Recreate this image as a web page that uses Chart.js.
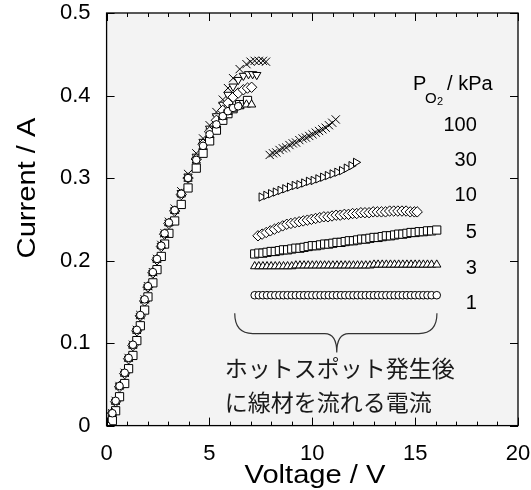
<!DOCTYPE html>
<html>
<head>
<meta charset="utf-8">
<script src="https://cdn.jsdelivr.net/npm/chart.js@4.4.0/dist/chart.umd.min.js"></script>
<style>
  html, body { margin: 0; padding: 0; background: #fff; }
  #wrap { width: 531px; height: 490px; }
</style>
</head>
<body>
<div id="wrap"><canvas id="chart" width="531" height="490"></canvas></div>
<script>
// ---- データ ----
const pressureLabels = ['100', '30', '10', '5', '3', '1'];   // PO2 / kPa

// 立ち上がり部分 (ホットスポット発生前)
const riseV100 = [0, 0.28, 0.44, 0.63, 0.88, 1.07, 1.28, 1.47, 1.64, 1.85, 2.01, 2.25, 2.45, 2.66, 2.82, 3.03, 3.31, 3.63, 3.96, 4.36, 4.69, 5.01, 5.34, 5.65, 5.9, 6.15, 6.47, 6.8, 7.0, 7.2, 7.4, 7.6, 7.75];
const riseI100 = [0, 0.015, 0.030, 0.048, 0.064, 0.082, 0.098, 0.116, 0.134, 0.153, 0.169, 0.186, 0.202, 0.219, 0.233, 0.247, 0.263, 0.284, 0.305, 0.330, 0.348, 0.364, 0.380, 0.395, 0.409, 0.421, 0.432, 0.438, 0.441, 0.442, 0.442, 0.442, 0.441];

const riseV30 = [0, 0.28, 0.44, 0.63, 0.88, 1.07, 1.28, 1.47, 1.64, 1.85, 2.01, 2.25, 2.45, 2.66, 2.82, 3.03, 3.31, 3.63, 3.96, 4.36, 4.69, 5.01, 5.34, 5.65, 5.9, 6.15, 6.4, 6.65, 6.9, 7.1, 7.3];
const riseI30 = [0, 0.015, 0.029, 0.048, 0.063, 0.081, 0.097, 0.115, 0.133, 0.152, 0.168, 0.185, 0.201, 0.218, 0.232, 0.246, 0.261, 0.282, 0.302, 0.326, 0.344, 0.360, 0.375, 0.389, 0.401, 0.411, 0.419, 0.424, 0.426, 0.426, 0.425];

const riseV10 = [0, 0.28, 0.44, 0.63, 0.88, 1.07, 1.28, 1.47, 1.64, 1.85, 2.01, 2.25, 2.45, 2.66, 2.82, 3.03, 3.31, 3.63, 3.96, 4.36, 4.69, 5.01, 5.34, 5.65, 5.9, 6.15, 6.4, 6.65, 6.85, 7.05];
const riseI10 = [0, 0.015, 0.029, 0.047, 0.063, 0.081, 0.097, 0.115, 0.133, 0.151, 0.168, 0.185, 0.201, 0.217, 0.232, 0.245, 0.260, 0.280, 0.300, 0.323, 0.341, 0.356, 0.370, 0.382, 0.391, 0.398, 0.403, 0.407, 0.409, 0.410];

const riseV5 = [0, 0.28, 0.44, 0.63, 0.88, 1.07, 1.28, 1.47, 1.64, 1.85, 2.01, 2.25, 2.45, 2.66, 2.82, 3.03, 3.31, 3.63, 3.96, 4.36, 4.69, 5.01, 5.34, 5.65, 5.9, 6.15, 6.47, 6.85];
const riseI5 = [0, 0.006, 0.018, 0.035, 0.051, 0.069, 0.085, 0.103, 0.121, 0.140, 0.156, 0.173, 0.189, 0.205, 0.220, 0.233, 0.248, 0.268, 0.288, 0.312, 0.330, 0.345, 0.358, 0.370, 0.378, 0.384, 0.389, 0.394];

const riseV3 = [0, 0.28, 0.44, 0.63, 0.88, 1.07, 1.28, 1.47, 1.64, 1.85, 2.01, 2.25, 2.45, 2.66, 2.82, 3.03, 3.31, 3.63, 3.96, 4.36, 4.69, 5.01, 5.34, 5.65, 5.9, 6.15, 6.47, 6.8, 7.05];
const riseI3 = [0, 0.015, 0.029, 0.048, 0.063, 0.081, 0.097, 0.115, 0.133, 0.152, 0.168, 0.185, 0.201, 0.218, 0.232, 0.245, 0.260, 0.280, 0.299, 0.321, 0.338, 0.352, 0.364, 0.374, 0.380, 0.384, 0.387, 0.389, 0.389];

const riseV1 = [0, 0.28, 0.44, 0.63, 0.88, 1.07, 1.28, 1.47, 1.64, 1.85, 2.01, 2.25, 2.45, 2.66, 2.82, 3.03, 3.31, 3.63, 3.96, 4.36, 4.69, 5.01, 5.34, 5.65, 5.9, 6.15, 6.4];
const riseI1 = [0, 0.015, 0.030, 0.048, 0.064, 0.082, 0.098, 0.116, 0.134, 0.153, 0.169, 0.186, 0.202, 0.218, 0.233, 0.246, 0.261, 0.281, 0.300, 0.322, 0.339, 0.353, 0.365, 0.375, 0.381, 0.385, 0.387];

// ホットスポット発生後
const hotV100 = [7.93, 8.09, 8.25, 8.41, 8.57, 8.73, 8.89, 9.05, 9.21, 9.37, 9.53, 9.69, 9.85, 10.01, 10.17, 10.33, 10.49, 10.65, 10.81, 10.97, 11.14];
const hotI100 = [0.328, 0.330, 0.331, 0.334, 0.336, 0.337, 0.340, 0.342, 0.343, 0.346, 0.348, 0.349, 0.351, 0.353, 0.355, 0.357, 0.359, 0.361, 0.364, 0.367, 0.371];

const hotV30 = [7.53, 7.76, 7.99, 8.22, 8.45, 8.68, 8.91, 9.14, 9.37, 9.6, 9.83, 10.06, 10.29, 10.52, 10.75, 10.98, 11.21, 11.44, 11.67, 11.9, 12.12];
const hotI30 = [0.277, 0.279, 0.281, 0.283, 0.285, 0.287, 0.289, 0.291, 0.292, 0.294, 0.296, 0.297, 0.299, 0.301, 0.303, 0.305, 0.307, 0.309, 0.312, 0.315, 0.319];

const hotV10 = [7.36, 7.56, 7.76, 7.96, 8.16, 8.36, 8.56, 8.76, 8.96, 9.16, 9.36, 9.56, 9.76, 9.96, 10.16, 10.36, 10.56, 10.76, 10.96, 11.16, 11.36, 11.56, 11.76, 11.96, 12.16, 12.36, 12.56, 12.76, 12.96, 13.16, 13.36, 13.56, 13.76, 13.96, 14.16, 14.36, 14.56, 14.76, 14.96, 15.1];
const hotI10 = [0.230, 0.232, 0.234, 0.236, 0.238, 0.240, 0.242, 0.244, 0.245, 0.246, 0.247, 0.248, 0.249, 0.250, 0.251, 0.252, 0.253, 0.253, 0.254, 0.255, 0.255, 0.256, 0.256, 0.257, 0.257, 0.258, 0.258, 0.258, 0.259, 0.259, 0.259, 0.259, 0.260, 0.260, 0.260, 0.260, 0.260, 0.259, 0.259, 0.259];

// 5, 3, 1 kPa は同じ電圧点
const hotV = [7.2, 7.4, 7.6, 7.8, 8.0, 8.2, 8.4, 8.6, 8.8, 9.0, 9.2, 9.4, 9.6, 9.8, 10.0, 10.2, 10.4, 10.6, 10.8, 11.0, 11.2, 11.4, 11.6, 11.8, 12.0, 12.2, 12.4, 12.6, 12.8, 13.0, 13.2, 13.4, 13.6, 13.8, 14.0, 14.2, 14.4, 14.6, 14.8, 15.0, 15.2, 15.4, 15.6, 15.8, 16.05];
const hotI5 = [0.208, 0.209, 0.209, 0.210, 0.211, 0.211, 0.212, 0.213, 0.213, 0.214, 0.215, 0.215, 0.216, 0.217, 0.218, 0.218, 0.219, 0.220, 0.220, 0.221, 0.222, 0.222, 0.223, 0.224, 0.224, 0.225, 0.226, 0.226, 0.227, 0.228, 0.228, 0.229, 0.230, 0.230, 0.231, 0.232, 0.232, 0.233, 0.234, 0.234, 0.235, 0.235, 0.236, 0.236, 0.237];
const hotI3 = [0.193, 0.193, 0.193, 0.193, 0.193, 0.193, 0.193, 0.193, 0.193, 0.193, 0.194, 0.194, 0.194, 0.194, 0.194, 0.194, 0.194, 0.194, 0.194, 0.194, 0.194, 0.194, 0.194, 0.194, 0.194, 0.194, 0.194, 0.194, 0.194, 0.195, 0.195, 0.195, 0.195, 0.195, 0.195, 0.195, 0.195, 0.195, 0.195, 0.195, 0.195, 0.195, 0.195, 0.195, 0.195];
const hotI1 = [0.158, 0.158, 0.158, 0.158, 0.158, 0.158, 0.158, 0.158, 0.158, 0.158, 0.158, 0.158, 0.158, 0.158, 0.158, 0.158, 0.158, 0.158, 0.158, 0.158, 0.158, 0.158, 0.158, 0.158, 0.158, 0.158, 0.158, 0.158, 0.158, 0.158, 0.158, 0.158, 0.158, 0.158, 0.158, 0.158, 0.158, 0.158, 0.158, 0.158, 0.158, 0.158, 0.158, 0.158, 0.158];

// 軸
const xTicks = [0, 5, 10, 15, 20];
const yTicks = [0, 0.1, 0.2, 0.3, 0.4, 0.5];

const FONT = 'Arial, "Liberation Sans", sans-serif';

function pts(vs, is) {
  return vs.map((v, k) => ({ x: v, y: is[k] }));
}

function series(label, vs, is, style, radius, rotation) {
  return {
    label: label,
    data: pts(vs, is),
    showLine: false,
    pointStyle: style,
    pointRadius: radius,
    pointHoverRadius: radius,
    pointRotation: rotation || 0,
    pointBackgroundColor: '#ffffff',
    pointBorderColor: '#000000',
    pointBorderWidth: 1
  };
}

const datasets = [
  series('1', riseV1, riseI1, 'circle', 3.8),
  series('3', riseV3, riseI3, 'triangle', 4.8),
  series('5', riseV5, riseI5, 'rect', 5.8),
  series('10', riseV10, riseI10, 'rectRot', 5.2),
  series('30', riseV30, riseI30, 'triangle', 4.8, 180),
  series('100', riseV100, riseI100, 'crossRot', 5.8),
  series('1', hotV, hotI1, 'circle', 3.8),
  series('3', hotV, hotI3, 'triangle', 4.8),
  series('5', hotV, hotI5, 'rect', 5.8),
  series('10', hotV10, hotI10, 'rectRot', 5.2),
  series('30', hotV30, hotI30, 'triangle', 4.8, 90),
  series('100', hotV100, hotI100, 'crossRot', 5.8)
];

// 背景 (プロット領域の灰色)
const bgPlugin = {
  id: 'bg',
  beforeDatasetsDraw(chart) {
    const a = chart.chartArea;
    const ctx = chart.ctx;
    ctx.save();
    ctx.fillStyle = '#f3f3f3';
    ctx.fillRect(a.left, a.top, a.right - a.left, a.bottom - a.top);
    ctx.restore();
  }
};

// 枠と内向きの目盛り、注記
const framePlugin = {
  id: 'frame',
  afterDraw(chart) {
    const a = chart.chartArea;
    const ctx = chart.ctx;
    const xs = chart.scales.x;
    const ys = chart.scales.y;
    ctx.save();
    ctx.strokeStyle = '#000';
    ctx.lineWidth = 1.3;
    ctx.strokeRect(a.left, a.top, a.right - a.left, a.bottom - a.top);

    ctx.lineWidth = 1;
    ctx.beginPath();
    for (let v = 0; v <= 20; v++) {
      const px = Math.round(xs.getPixelForValue(v)) + 0.5;
      const len = v % 5 === 0 ? 8 : 4;
      ctx.moveTo(px, a.bottom); ctx.lineTo(px, a.bottom - len);
      ctx.moveTo(px, a.top); ctx.lineTo(px, a.top + len);
    }
    yTicks.forEach(t => {
      const py = Math.round(ys.getPixelForValue(t)) + 0.5;
      ctx.moveTo(a.left, py); ctx.lineTo(a.left + 8, py);
      ctx.moveTo(a.right, py); ctx.lineTo(a.right - 8, py);
    });
    ctx.stroke();

    // 凡例 PO2 / kPa
    ctx.fillStyle = '#000';
    ctx.textBaseline = 'alphabetic';
    ctx.textAlign = 'left';
    const lx = xs.getPixelForValue(14.9);
    const ly = ys.getPixelForValue(0.407);
    ctx.font = '20px ' + FONT;
    ctx.fillText('P', lx, ly);
    ctx.font = '15px ' + FONT;
    ctx.fillText('O', lx + 12, ly + 13);
    ctx.font = '11px ' + FONT;
    ctx.fillText('2', lx + 24, ly + 15);
    ctx.font = '20px ' + FONT;
    ctx.fillText('/ kPa', lx + 34, ly);

    const labelY = [0.364, 0.321, 0.279, 0.234, 0.191, 0.148];
    ctx.textAlign = 'right';
    ctx.textBaseline = 'middle';
    pressureLabels.forEach((p, k) => {
      ctx.fillText(p, xs.getPixelForValue(18.0), ys.getPixelForValue(labelY[k]));
    });

    // 中括弧
    const bx0 = xs.getPixelForValue(6.23), bx1 = xs.getPixelForValue(16.06);
    const bxm = xs.getPixelForValue(11.19);
    const by0 = ys.getPixelForValue(0.136), by1 = ys.getPixelForValue(0.1115);
    const byt = ys.getPixelForValue(0.0885);
    ctx.strokeStyle = '#333';
    ctx.lineWidth = 1.2;
    ctx.beginPath();
    ctx.moveTo(bx0, by0);
    ctx.quadraticCurveTo(bx0, by1, bx0 + 18, by1);
    ctx.lineTo(bxm - 12, by1);
    ctx.quadraticCurveTo(bxm, by1, bxm, byt);
    ctx.quadraticCurveTo(bxm, by1, bxm + 12, by1);
    ctx.lineTo(bx1 - 18, by1);
    ctx.quadraticCurveTo(bx1, by1, bx1, by0);
    ctx.stroke();

    // 日本語の注記
    ctx.fillStyle = '#1a1a1a';
    ctx.textAlign = 'left';
    ctx.textBaseline = 'middle';
    ctx.font = '23px "Noto Sans CJK JP", sans-serif';
    const tx = xs.getPixelForValue(5.74);
    ctx.fillText('ホットスポット発生後', tx, ys.getPixelForValue(0.069));
    ctx.fillText('に線材を流れる電流', tx, ys.getPixelForValue(0.028));

    // 軸タイトル
    ctx.fillStyle = '#000';
    ctx.textAlign = 'center';
    ctx.font = '26px ' + FONT;
    ctx.save();
    ctx.translate(315, 476);
    ctx.scale(1.12, 1);
    ctx.fillText('Voltage / V', 0, 0);
    ctx.restore();
    ctx.save();
    ctx.translate(28, 188);
    ctx.rotate(-Math.PI / 2);
    ctx.scale(1.12, 1);
    ctx.fillText('Current / A', 0, 0);
    ctx.restore();
    ctx.restore();
  }
};

// 端の目盛りラベルによる余白を無効にする
function noEdgePadding(axis) {
  axis.paddingLeft = 0;
  axis.paddingRight = 0;
  axis.paddingTop = 0;
  axis.paddingBottom = 0;
}

const ctx = document.getElementById('chart').getContext('2d');
new Chart(ctx, {
  type: 'scatter',
  data: { datasets: datasets },
  options: {
    responsive: false,
    animation: false,
    events: [],
    layout: { autoPadding: false, padding: { left: 44, right: 13, top: 13, bottom: 8 } },
    plugins: {
      legend: { display: false },
      tooltip: { enabled: false }
    },
    scales: {
      x: {
        type: 'linear',
        min: 0,
        max: 20,
        afterBuildTicks: axis => { axis.ticks = xTicks.map(v => ({ value: v })); },
        afterFit: noEdgePadding,
        ticks: { color: '#000', font: { family: FONT, size: 22 }, padding: 15, maxRotation: 0 },
        grid: { display: false, drawTicks: false },
        border: { display: false }
      },
      y: {
        type: 'linear',
        min: 0,
        max: 0.5,
        afterBuildTicks: axis => { axis.ticks = yTicks.map(v => ({ value: v })); },
        afterFit: noEdgePadding,
        ticks: { color: '#000', font: { family: FONT, size: 22 }, padding: 16,
                 callback: v => String(Math.round(v * 10) / 10) },
        grid: { display: false, drawTicks: false },
        border: { display: false }
      }
    }
  },
  plugins: [bgPlugin, framePlugin]
});
</script>
</body>
</html>
